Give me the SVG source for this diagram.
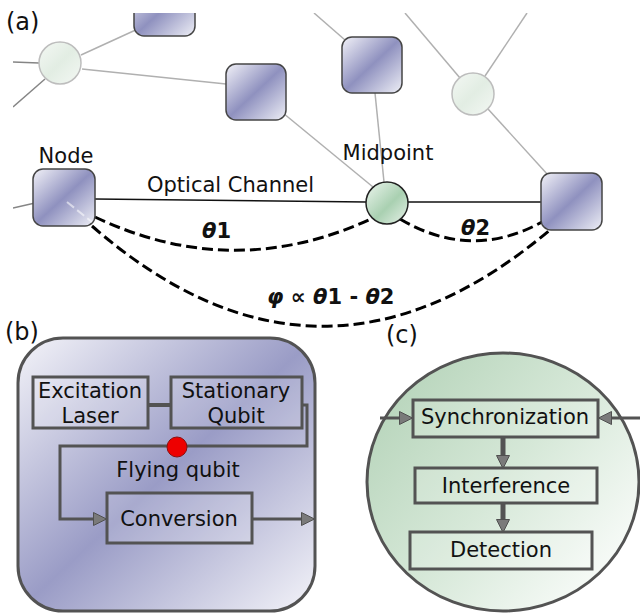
<svg xmlns="http://www.w3.org/2000/svg" width="640" height="614" viewBox="0 0 640 614">
<defs>
<linearGradient id="gBlue" x1="0" y1="0" x2="1" y2="1">
<stop offset="0" stop-color="#f2f2f8"/>
<stop offset="0.5" stop-color="#8f91bf"/>
<stop offset="1" stop-color="#eeeff6"/>
</linearGradient>
<linearGradient id="gBlueBig" x1="0" y1="0" x2="1" y2="1">
<stop offset="0" stop-color="#f4f4f9"/>
<stop offset="0.5" stop-color="#9a9cc6"/>
<stop offset="1" stop-color="#f4f4f9"/>
</linearGradient>
<linearGradient id="gGreen" x1="0" y1="0" x2="1" y2="1">
<stop offset="0" stop-color="#eef6ef"/>
<stop offset="0.55" stop-color="#a9d0b1"/>
<stop offset="1" stop-color="#e8f2ea"/>
</linearGradient>
<linearGradient id="gFaint" x1="0" y1="0" x2="1" y2="1">
<stop offset="0" stop-color="#f4f8f4"/>
<stop offset="0.5" stop-color="#e2ede3"/>
<stop offset="1" stop-color="#f4f8f4"/>
</linearGradient>
<linearGradient id="gGreenBig" x1="0" y1="0.1" x2="1" y2="0.9">
<stop offset="0" stop-color="#b3d2b7"/>
<stop offset="0.5" stop-color="#d6e8d8"/>
<stop offset="1" stop-color="#ffffff"/>
</linearGradient>
<clipPath id="bgClip"><rect x="13" y="13" width="627" height="300"/></clipPath>
<marker id="arr" viewBox="0 0 14 14" refX="0" refY="7" markerWidth="14" markerHeight="14" markerUnits="userSpaceOnUse" orient="auto">
<path d="M0.5,0.5 L13.5,7 L0.5,13.5 z" fill="#7a7a7a" stroke="#505050" stroke-width="1"/>
</marker>
</defs>
<style>
text { font-family: "DejaVu Sans", Verdana, sans-serif; fill: #111; }
.lbl { font-size: 21px; }
.pl { font-size: 24px; }
.math { font-size: 21px; font-weight: bold; }
.it { font-style: italic; }
.bgl { stroke: #b0b0b0; stroke-width: 1.5; fill: none; }
.bgd { stroke: #858585; stroke-width: 1.5; fill: none; }
.nbox { fill: url(#gBlue); stroke: #454545; stroke-width: 1.5; }
.fcirc { fill: url(#gFaint); stroke: #bdbdbd; stroke-width: 1.5; }
.chan { stroke: #111; stroke-width: 1.5; fill: none; }
.dash { stroke: #000; stroke-width: 3; fill: none; stroke-dasharray: 11 5; }
.ibox { fill: #ffffff; fill-opacity: 0.15; stroke: #535353; stroke-width: 3; }
.conn { stroke: #535353; stroke-width: 3; fill: none; }
.thick { stroke: #535353; stroke-width: 5; fill: none; }
</style>

<!-- background network -->
<g id="background" clip-path="url(#bgClip)">
<line class="bgd" x1="13" y1="62" x2="39" y2="63"/>
<line class="bgd" x1="13" y1="107" x2="45" y2="79"/>
<line class="bgl" x1="81" y1="55" x2="140" y2="28"/>
<line class="bgl" x1="82" y1="69" x2="226" y2="84"/>
<line class="bgl" x1="283" y1="113" x2="373" y2="187"/>
<line class="bgl" x1="314" y1="13" x2="345" y2="40"/>
<line class="bgl" x1="375" y1="93" x2="384" y2="182"/>
<line class="bgl" x1="405" y1="13" x2="460" y2="78"/>
<line class="bgl" x1="527" y1="13" x2="485" y2="76"/>
<line class="bgl" x1="488" y1="109" x2="548" y2="175"/>
<line class="bgd" x1="13" y1="208" x2="35" y2="203"/>
<g id="bg-box-top"><rect class="nbox" x="134" y="-20" width="61" height="56" rx="10"/></g>
<g id="bg-box-2"><rect class="nbox" x="226" y="64" width="60" height="56" rx="10"/></g>
<g id="bg-box-3"><rect class="nbox" x="342" y="37" width="60" height="56" rx="10"/></g>
<g id="bg-circle-1"><circle class="fcirc" cx="60" cy="63" r="21"/></g>
<g id="bg-circle-2"><circle class="fcirc" cx="473" cy="94" r="21"/></g>
</g>

<text class="pl" x="6" y="30">(a)</text>

<!-- connectors of (a) -->
<g id="connectors-a">
<line class="chan" x1="95" y1="199" x2="366" y2="202"/>
<line class="chan" x1="408" y1="202" x2="541" y2="202"/>
<path class="dash" d="M95,217 Q234,283 373,218"/>
<path class="dash" d="M400,219 Q471,261 542,222"/>
<path class="dash" d="M92,226 Q320,425 551,229"/>
</g>

<g id="node-left">
<rect class="nbox" x="33" y="169" width="62" height="57" rx="10"/>
<path d="M67,202 L92,222" stroke="#ffffff" stroke-opacity="0.55" stroke-width="2" stroke-dasharray="9 4" fill="none"/>
<text class="lbl" x="66" y="163" text-anchor="middle">Node</text>
</g>
<g id="midpoint">
<circle cx="387" cy="203" r="21" fill="url(#gGreen)" stroke="#222" stroke-width="1.5"/>
<text class="lbl" x="388" y="160" text-anchor="middle">Midpoint</text>
</g>
<g id="node-right">
<rect class="nbox" x="541" y="173" width="61" height="57" rx="10"/>
</g>
<g id="labels-a">
<text class="lbl" x="147" y="192">Optical Channel</text>
<text class="math" x="202" y="238"><tspan class="it">θ</tspan>1</text>
<text class="math" x="461" y="235"><tspan class="it">θ</tspan>2</text>
<text class="math" x="267" y="304"><tspan class="it">φ</tspan> ∝ <tspan class="it">θ</tspan>1 - <tspan class="it">θ</tspan>2</text>
</g>

<!-- panel (b) -->
<g id="panel-b">
<rect x="18" y="338" width="297" height="273" rx="45" fill="url(#gBlueBig)" stroke="#535353" stroke-width="3"/>
<text class="pl" x="5" y="340">(b)</text>
</g>
<g id="connectors-b">
<line x1="148" y1="405" x2="171" y2="405" stroke="#535353" stroke-width="4"/>
<path class="conn" d="M302,405 H307 V446 H60 V519 H93" marker-end="url(#arr)"/>
<path class="conn" d="M252,519 H301" marker-end="url(#arr)"/>
</g>
<g id="excitation-laser">
<rect class="ibox" x="33" y="377" width="115" height="51"/>
<text class="lbl" x="90" y="398" text-anchor="middle">Excitation</text>
<text class="lbl" x="90" y="423" text-anchor="middle">Laser</text>
</g>
<g id="stationary-qubit">
<rect class="ibox" x="171" y="377" width="131" height="51"/>
<text class="lbl" x="236" y="398" text-anchor="middle">Stationary</text>
<text class="lbl" x="236" y="423" text-anchor="middle">Qubit</text>
</g>
<g id="flying-qubit">
<circle cx="177" cy="447" r="10" fill="#ee0000" stroke="#8a1010" stroke-width="1"/>
<text class="lbl" x="178" y="477" text-anchor="middle">Flying qubit</text>
</g>
<g id="conversion">
<rect class="ibox" x="107" y="493" width="145" height="50"/>
<text class="lbl" x="179" y="526" text-anchor="middle">Conversion</text>
</g>

<!-- panel (c) -->
<g id="panel-c">
<ellipse cx="503" cy="482" rx="136" ry="129" fill="url(#gGreenBig)" stroke="#535353" stroke-width="3"/>
<text class="pl" x="386" y="343">(c)</text>
</g>
<g id="connectors-c">
<path class="conn" d="M380,418 H399" marker-end="url(#arr)"/>
<path class="conn" d="M640,418 H612" marker-end="url(#arr)"/>
<path class="thick" d="M503,438 V455" marker-end="url(#arr)"/>
<path class="thick" d="M503,503 V519" marker-end="url(#arr)"/>
</g>
<g id="synchronization">
<rect class="ibox" x="413" y="400" width="185" height="37"/>
<text class="lbl" x="505" y="424" text-anchor="middle">Synchronization</text>
</g>
<g id="interference">
<rect class="ibox" x="415" y="468" width="182" height="35"/>
<text class="lbl" x="506" y="493" text-anchor="middle">Interference</text>
</g>
<g id="detection">
<rect class="ibox" x="410" y="532" width="182" height="37"/>
<text class="lbl" x="501" y="557" text-anchor="middle">Detection</text>
</g>
</svg>
